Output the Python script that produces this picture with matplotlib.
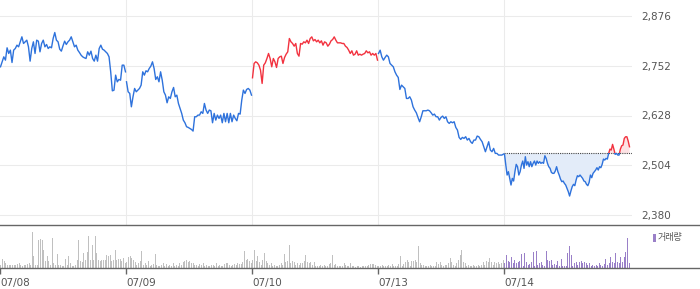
import numpy as np
import matplotlib
matplotlib.use("Agg")
import matplotlib.pyplot as plt
from matplotlib.patches import Rectangle

# ---------------- data ----------------
days = ["07/08", "07/09", "07/10", "07/13", "07/14"]
price_ticks = [2380, 2504, 2628, 2752, 2876]

price_0708 = [2749.4, 2761.8, 2774.2, 2766.0, 2796.7, 2782.6, 2790.9, 2760.1, 2790.9, 2795.0,
              2803.3, 2799.2, 2811.6, 2824.1, 2807.5, 2811.6, 2815.8, 2799.2, 2763.5, 2795.0,
              2811.6, 2782.6, 2815.8, 2813.3, 2786.7, 2807.5, 2815.8, 2799.2, 2805.0, 2795.0,
              2799.2, 2796.7, 2819.9, 2834.8, 2815.8, 2811.6, 2793.3, 2788.4, 2801.6, 2813.3,
              2805.0, 2811.6, 2815.8, 2824.1, 2811.6, 2799.2, 2803.3, 2790.9, 2785.0, 2778.4,
              2774.2, 2771.8, 2770.1, 2786.7, 2778.4, 2788.4, 2770.1, 2763.5, 2778.4, 2763.5,
              2795.0, 2803.3, 2793.3, 2790.9, 2786.7, 2782.6, 2774.2, 2736.8, 2689.5, 2691.0,
              2728.6, 2711.9, 2717.9, 2716.0, 2753.5, 2753.5, 2736.8]
price_0709 = [2712.0, 2687.1, 2683.0, 2649.7, 2674.6, 2695.4, 2687.1, 2691.3, 2695.4, 2703.7,
              2736.9, 2728.6, 2739.4, 2736.9, 2745.2, 2751.0, 2761.8, 2745.2, 2717.8, 2724.5,
              2712.0, 2736.9, 2716.2, 2687.1, 2678.8, 2659.7, 2674.6, 2670.5, 2687.1, 2697.9,
              2674.6, 2678.8, 2658.0, 2645.6, 2633.2, 2616.5, 2609.9, 2600.0, 2598.3, 2595.8,
              2593.3, 2589.2, 2624.9, 2624.9, 2629.0, 2629.0, 2637.3, 2633.2, 2658.0, 2641.5,
              2633.2, 2641.5, 2639.8, 2609.9, 2633.2, 2616.5, 2629.0, 2620.7, 2629.0, 2609.9,
              2633.2, 2612.4, 2633.2, 2609.9, 2633.2, 2612.4, 2629.0, 2620.7, 2614.9, 2633.2,
              2631.5, 2666.4, 2691.3, 2683.0, 2692.9, 2695.4, 2691.3, 2678.8]
price_0710 = [2722.0, 2757.7, 2761.8, 2759.3, 2753.5, 2741.0, 2707.9, 2753.5, 2759.3, 2770.1,
              2782.6, 2770.1, 2749.4, 2770.1, 2761.8, 2747.7, 2770.1, 2774.3, 2775.9, 2757.7,
              2772.6, 2780.9, 2786.7, 2819.9, 2811.6, 2807.5, 2800.8, 2807.5, 2782.6, 2775.9,
              2807.5, 2805.8, 2811.6, 2809.1, 2815.8, 2807.5, 2819.9, 2824.0, 2814.1, 2817.4,
              2811.6, 2815.8, 2809.1, 2814.1, 2803.3, 2811.6, 2809.1, 2800.8, 2805.8, 2814.1,
              2817.4, 2824.0, 2815.8, 2809.1, 2809.1, 2809.1, 2807.5, 2807.5, 2800.8, 2797.5,
              2790.9, 2782.6, 2789.2, 2778.4, 2780.9, 2789.2, 2778.4, 2780.9, 2778.4, 2780.9,
              2782.6, 2789.2, 2784.2, 2786.7, 2778.4, 2782.6, 2778.4, 2782.6, 2766.0]
price_0713 = [2782.6, 2790.8, 2774.3, 2765.9, 2772.6, 2778.4, 2774.3, 2757.7, 2753.5, 2749.4,
              2736.9, 2728.6, 2722.8, 2692.9, 2703.7, 2699.6, 2695.4, 2670.5, 2670.5, 2674.7,
              2666.4, 2649.8, 2641.5, 2634.8, 2623.2, 2612.4, 2624.9, 2639.8, 2639.8, 2639.8,
              2641.5, 2639.8, 2634.8, 2629.0, 2631.5, 2624.9, 2624.9, 2616.6, 2623.2, 2626.5,
              2620.7, 2624.9, 2612.4, 2608.3, 2612.4, 2609.9, 2612.4, 2598.3, 2591.7, 2573.4,
              2568.4, 2573.4, 2570.9, 2575.1, 2566.8, 2570.9, 2562.6, 2558.5, 2566.8, 2566.8,
              2576.7, 2575.1, 2568.4, 2562.6, 2550.2, 2537.7, 2550.2, 2562.6, 2541.9, 2537.7,
              2546.0, 2533.6, 2533.6, 2529.4, 2529.4, 2529.4, 2531.9]
price_0714 = [2531.1, 2504.5, 2479.6, 2487.9, 2471.3, 2454.7, 2471.3, 2464.7, 2487.9, 2506.2,
              2500.4, 2479.6, 2487.9, 2504.5, 2514.5, 2496.2, 2525.3, 2504.5, 2512.8, 2500.4,
              2512.8, 2500.4, 2508.7, 2514.5, 2504.5, 2514.5, 2508.7, 2512.8, 2508.7, 2511.1,
              2508.7, 2527.7, 2521.1, 2508.7, 2500.4, 2496.2, 2486.2, 2483.8, 2483.8, 2489.6,
              2500.4, 2487.9, 2479.6, 2469.6, 2463.0, 2464.7, 2458.9, 2454.7, 2446.4, 2438.1,
              2427.3, 2439.8, 2450.6, 2456.4, 2453.1, 2467.2, 2477.9, 2475.5, 2479.6, 2475.5,
              2471.3, 2464.7, 2463.0, 2456.4, 2453.1, 2461.3, 2479.6, 2473.0, 2483.8, 2487.9,
              2492.1, 2497.9, 2492.1, 2500.4, 2497.9, 2506.2, 2519.4, 2517.0, 2521.1, 2519.4,
              2533.6, 2544.3, 2541.9, 2556.0, 2544.3, 2531.1, 2533.6, 2529.4, 2529.4, 2544.3,
              2552.6, 2554.3, 2570.9, 2575.0, 2575.0, 2564.3, 2550.1]
prev_close_0714 = 2533.5

vol_0708 = [3, 9, 7, 5, 3, 3, 3, 3, 3, 3, 4, 5, 3, 2, 3, 3, 4, 5, 3, 36,
            12, 3, 3, 28, 29, 28, 18, 7, 12, 7, 3, 30, 5, 3, 14, 3, 3, 2, 2, 9,
            3, 12, 5, 2, 2, 3, 8, 28, 7, 6, 15, 8, 16, 32, 8, 23, 8, 32, 15, 8,
            7, 8, 8, 8, 13, 12, 13, 7, 8, 18, 8, 9, 9, 7, 10, 5]
vol_0709 = [6, 11, 12, 10, 8, 6, 3, 5, 7, 17, 3, 5, 3, 7, 2, 3, 4, 14, 3, 2,
            2, 3, 5, 2, 4, 2, 3, 2, 5, 2, 3, 2, 5, 3, 6, 7, 8, 6, 7, 5,
            5, 3, 3, 2, 4, 3, 5, 2, 3, 2, 2, 3, 3, 2, 5, 2, 3, 2, 2, 4,
            5, 5, 3, 2, 3, 4, 3, 5, 4, 4, 6, 17, 8, 9, 7, 5]
vol_0710 = [8, 18, 7, 12, 6, 3, 8, 15, 7, 5, 3, 5, 2, 3, 2, 2, 3, 5, 3, 14,
            6, 7, 23, 5, 7, 6, 3, 5, 3, 5, 5, 7, 13, 6, 5, 6, 3, 6, 2, 2,
            2, 3, 2, 3, 2, 2, 4, 5, 13, 3, 4, 2, 2, 2, 2, 5, 3, 2, 2, 5,
            2, 2, 1, 2, 2, 1, 2, 2, 2, 2, 3, 4, 4, 4, 3, 2]
vol_0713 = [2, 2, 3, 2, 2, 2, 3, 2, 4, 2, 2, 2, 4, 12, 2, 4, 6, 8, 6, 2,
            7, 7, 8, 6, 22, 5, 3, 3, 2, 2, 2, 3, 2, 2, 2, 6, 4, 6, 3, 2,
            3, 3, 5, 10, 6, 3, 2, 5, 8, 13, 18, 6, 5, 2, 3, 2, 2, 3, 2, 2,
            3, 2, 3, 6, 3, 7, 6, 10, 6, 3, 6, 5, 6, 4, 5, 8]
vol_0714 = [5, 13, 7, 6, 11, 5, 8, 5, 6, 7, 14, 2, 15, 6, 3, 4, 6, 16, 2, 17,
            3, 5, 6, 3, 2, 17, 8, 7, 8, 3, 4, 3, 7, 2, 9, 2, 2, 2, 15, 22,
            13, 2, 5, 6, 3, 6, 7, 5, 6, 5, 3, 5, 2, 3, 2, 3, 2, 5, 3, 2,
            4, 9, 3, 5, 11, 6, 5, 15, 6, 5, 11, 6, 11, 16, 30, 5]

prices = [price_0708, price_0709, price_0710, price_0713, price_0714]
volumes = [vol_0708, vol_0709, vol_0710, vol_0713, vol_0714]

# ---------------- style ----------------
BLUE = "#2e72dc"
RED = "#f2323f"
GRID = "#ebebeb"
TXT = "#555555"
VGRAY = "#c0c0c0"
PURPLE = "#9a80c8"

plt.rcParams["font.family"] = ["DejaVu Sans", "Noto Sans CJK KR"]

W, H = 700, 289
DAYPX = 126.0
fig = plt.figure(figsize=(W / 100, H / 100), dpi=100)
ax = fig.add_axes([0, 1 - 225 / H, 632 / W, 225 / H])
axv = fig.add_axes([0, 1 - 268 / H, 1, 43 / H])

# ---------------- price panel ----------------
ymin = 2380 - 10 * 124 / 49.75
ymax = 2380 + 215 * 124 / 49.75
ax.set_xlim(0, 632 / DAYPX)
ax.set_ylim(ymin, ymax)

n_days = len(days)
for d, p in enumerate(prices):
    p = np.asarray(p)
    x = d + np.linspace(0.004, 0.996, len(p))
    if d < n_days - 1:
        ref = prices[d - 1][-1] if d > 0 else p[0]
        color = RED if p[-1] > ref else BLUE
        ax.plot(x, p, color=color, lw=1.0, zorder=3)
    else:
        base = prev_close_0714
        ax.fill_between(x, p, base, where=p <= base, interpolate=True,
                        color="#e3ecf9", lw=0, zorder=1)
        ax.fill_between(x, p, base, where=p >= base, interpolate=True,
                        color="#fde2e4", lw=0, zorder=1)
        ax.hlines(base, d, 632 / DAYPX, colors="#444444", linestyles=(0, (1, 1)),
                  lw=0.8, zorder=2)
        for col, lo, hi in [(BLUE, ymin, base), (RED, base, ymax)]:
            ln, = ax.plot(x, p, color=col, lw=1.0, zorder=3)
            clip = Rectangle((d - 0.1, lo), 1.3, hi - lo, transform=ax.transData)
            ln.set_clip_path(clip)

ax.set_yticks(price_ticks)
ax.set_yticklabels([f"{v:,}" for v in price_ticks])
ax.yaxis.tick_right()
ax.set_xticks(range(1, n_days))
ax.tick_params(axis="x", length=0, labelbottom=False)
ax.tick_params(axis="y", length=0, pad=6.5, labelsize=7.5, labelcolor=TXT)
ax.grid(True, color=GRID, lw=0.75)
ax.set_axisbelow(True)
for s in ax.spines.values():
    s.set_visible(False)
ax.patch.set_alpha(0)

# ---------------- volume panel ----------------
axv.set_xlim(0, W / DAYPX)
axv.set_ylim(0, 43)
for d, v in enumerate(volumes):
    n = len(v)
    xv = d + (np.arange(n) + 0.5) / n
    col = PURPLE if d == n_days - 1 else VGRAY
    axv.bar(xv, v, width=1.0 / DAYPX, color=col, lw=0, align="center")

axv.set_yticks([])
axv.set_xticks(range(n_days))
axv.set_xticklabels(days)
for lbl in axv.get_xticklabels():
    lbl.set_horizontalalignment("left")
axv.tick_params(axis="x", length=4, width=1, color="#666666", pad=3,
                labelsize=7.5, labelcolor=TXT)
for side in ["left", "right"]:
    axv.spines[side].set_visible(False)
for side in ["top", "bottom"]:
    axv.spines[side].set_color("#666666")
    axv.spines[side].set_linewidth(1.0)
axv.patch.set_alpha(0)

# legend
axv.add_patch(Rectangle((652.5 / W, (268 - 242) / 43), 3 / W, 8 / 43,
                        transform=axv.transAxes, color=PURPLE, lw=0))
axv.text(657.5 / W, (268 - 237.5) / 43, "거래량", transform=axv.transAxes,
         ha="left", va="center", fontsize=6.5, color=TXT,
         family=["Noto Sans CJK KR", "DejaVu Sans"])

fig.savefig("out.png", dpi=100)
